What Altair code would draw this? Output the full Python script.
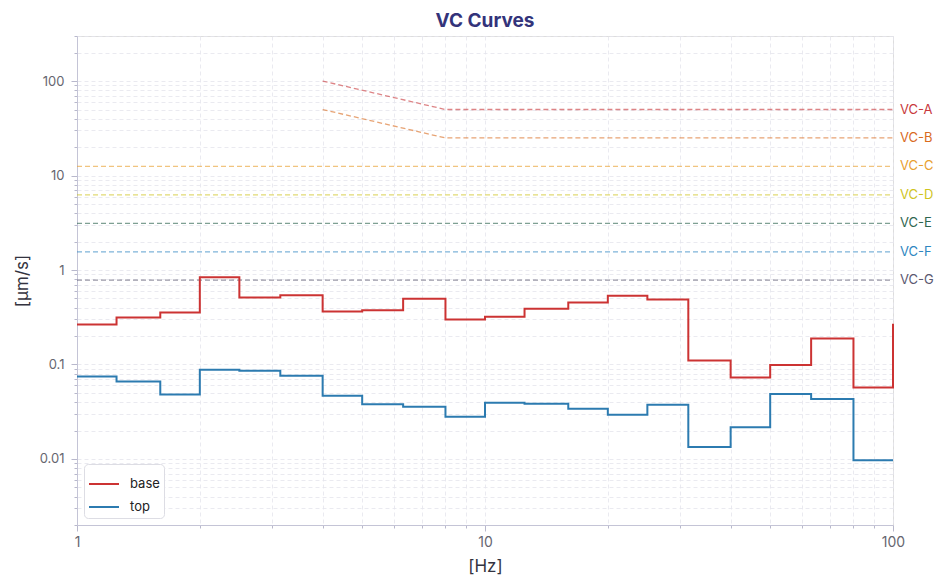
import altair as alt
import pandas as pd

freqs = [1, 1.25, 1.6, 2, 2.5, 3.15, 4, 5, 6.3, 8, 10, 12.5, 16, 20, 25, 31.5, 40, 50, 63, 80, 100]
base_vals = [0.265, 0.314, 0.355, 0.836, 0.512, 0.542, 0.363, 0.375, 0.495, 0.299, 0.321,
             0.388, 0.453, 0.533, 0.488, 0.110, 0.0727, 0.099, 0.188, 0.057, 0.27]
top_vals = [0.0745, 0.066, 0.048, 0.0878, 0.0857, 0.0758, 0.0468, 0.038, 0.0357, 0.028, 0.0394,
            0.0385, 0.034, 0.0294, 0.0376, 0.0134, 0.0217, 0.0488, 0.0431, 0.0097, 0.0097]

vc_names = ["VC-A", "VC-B", "VC-C", "VC-D", "VC-E", "VC-F", "VC-G"]
vc_levels = [50, 25, 12.5, 6.25, 3.12, 1.56, 0.78]
vc_colors = ["#c8383c", "#d96a1e", "#e8a030", "#cfc41e", "#2f6650", "#2e86c1", "#5a5870"]
vc_start = [4, 4, 1, 1, 1, 1, 1]
vc_knee = 8

rows = []
for f, b, t in zip(freqs, base_vals, top_vals):
    rows.append({"f": f, "v": b, "series": "base"})
    rows.append({"f": f, "v": t, "series": "top"})
df = pd.DataFrame(rows)

vc_rows = []
lab_rows = []
for n, lv, c, s in zip(vc_names, vc_levels, vc_colors, vc_start):
    if s == 4:
        vc_rows.append({"f": 4, "v": lv * vc_knee / 4, "name": n, "col": c})
        vc_rows.append({"f": vc_knee, "v": lv, "name": n, "col": c})
    else:
        vc_rows.append({"f": 1, "v": lv, "name": n, "col": c})
    vc_rows.append({"f": 100, "v": lv, "name": n, "col": c})
    lab_rows.append({"f": 100, "v": lv, "name": n, "col": c})
vc_df = pd.DataFrame(vc_rows)
lab_df = pd.DataFrame(lab_rows)

xticks = [m * 10 ** e for e in range(0, 2) for m in range(1, 10)] + [100]
yticks = [m * 10 ** e for e in range(-3, 3) for m in range(1, 10)]
yticks = [round(v, 6) for v in yticks if 0.002 <= v <= 300]

major_test = "abs(log(datum.value)/LN10 - round(log(datum.value)/LN10)) < 0.000001"
label_expr = "abs(log(datum.value)/LN10 - round(log(datum.value)/LN10)) < 0.000001 ? format(datum.value, '~g') : ''"

FONT = "Inter"
GRID = "#e4e4ec"

xscale = alt.Scale(type="log", domain=[1, 100], nice=False)
yscale = alt.Scale(type="log", domain=[0.002, 300], nice=False)

xaxis = alt.Axis(values=xticks, labelExpr=label_expr, title="[Hz]",
                 tickSize={"condition": {"test": major_test, "value": 6}, "value": 3},
                 grid=True, gridDash=[4, 3], gridColor=GRID, gridWidth=0.8,
                 domainColor="#c4c4d6", tickColor="#b8b8cc", labelColor="#666670",
                 labelFontSize=14, titleFontSize=17, titleFontWeight="normal",
                 titleColor="#333340", labelFont=FONT, titleFont=FONT, labelPadding=4,
                 titlePadding=9, labelFlush=False)
yaxis = alt.Axis(values=yticks, labelExpr=label_expr, title="[µm/s]",
                 tickSize={"condition": {"test": major_test, "value": 6}, "value": 3},
                 grid=True, gridDash=[4, 3], gridColor=GRID, gridWidth=0.8,
                 domainColor="#c4c4d6", tickColor="#b8b8cc", labelColor="#666670",
                 labelFontSize=13, titleFontSize=17, titleFontWeight="normal",
                 titleColor="#333340", labelFont=FONT, titleFont=FONT, labelPadding=7,
                 titlePadding=8, labelFlush=False)

vc_lines = alt.Chart(vc_df).mark_line(strokeDash=[5, 3], strokeWidth=1.3, strokeOpacity=0.62).encode(
    x=alt.X("f:Q", scale=xscale, axis=xaxis),
    y=alt.Y("v:Q", scale=yscale, axis=yaxis),
    detail="name:N",
    stroke=alt.Stroke("col:N", scale=None),
)

vc_labels = alt.Chart(lab_df).mark_text(align="left", dx=7, fontSize=13, font=FONT, clip=False).encode(
    x=alt.X("f:Q", scale=xscale),
    y=alt.Y("v:Q", scale=yscale),
    text="name:N",
    fill=alt.Fill("col:N", scale=None),
)

steps = alt.Chart(df).mark_line(interpolate="step-after", strokeWidth=2).encode(
    x=alt.X("f:Q", scale=xscale),
    y=alt.Y("v:Q", scale=yscale),
    color=alt.Color("series:N",
                    scale=alt.Scale(domain=["base", "top"], range=["#cc3333", "#2c7bb0"]),
                    legend=alt.Legend(title=None, orient="bottom-left", symbolType="stroke",
                                      symbolStrokeWidth=2, symbolSize=900, labelFontSize=13,
                                      labelFont=FONT, labelColor="#222", fillColor="white",
                                      strokeColor="#dddde4", padding=4, cornerRadius=4,
                                      offset=7, rowPadding=-1, labelOffset=10, labelLimit=200)),
)

chart = alt.layer(vc_lines, steps, vc_labels).properties(
    width=816, height=489,
    padding={"left": 5, "top": 3, "right": 5, "bottom": 5},
    title=alt.Title("VC Curves", fontSize=19, font=FONT, fontWeight="bold", color="#33337a", offset=5),
).configure_view(stroke="#c4c4d6").configure(background="white")

chart.save("out.html", embed_options={"renderer": "svg", "actions": False})
